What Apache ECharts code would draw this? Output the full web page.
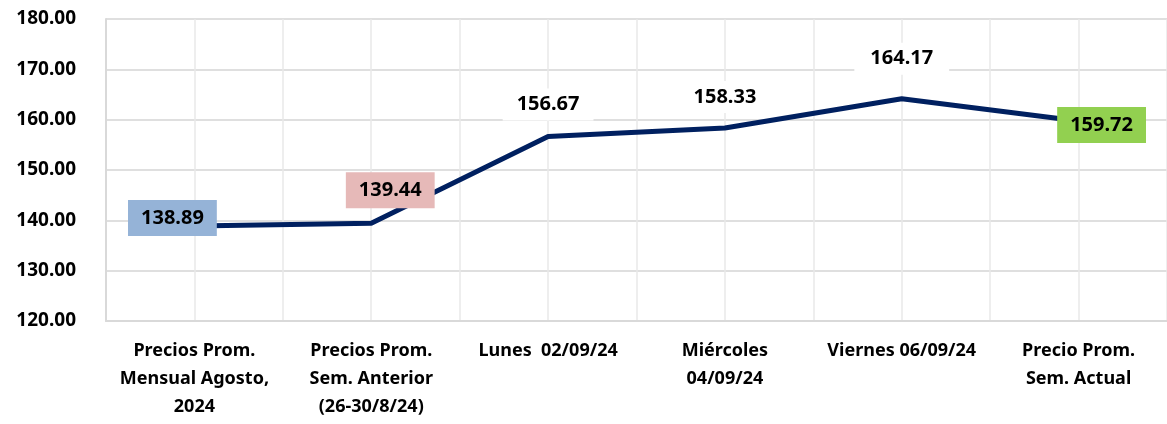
<!DOCTYPE html>
<html>
<head>
<meta charset="utf-8">
<script src="https://cdn.jsdelivr.net/npm/echarts@6/dist/echarts.min.js"></script>
<style>
  html, body { margin: 0; padding: 0; background: #fff; }
  #chart { width: 1167px; height: 424px; }
</style>
</head>
<body>
<div id="chart"></div>
<script>
// datos del gráfico
var categorias = ['Precios Prom.\nMensual Agosto,\n2024', 'Precios Prom.\nSem. Anterior\n(26-30/8/24)', 'Lunes  02/09/24', 'Miércoles\n04/09/24', 'Viernes 06/09/24', 'Precio Prom.\nSem. Actual'];
var precios = [138.89, 139.44, 156.67, 158.33, 164.17, 159.72];
var yMin = 120, yMax = 180, yPaso = 10;
var subdivisiones = ['', '', '', '', '', '', '', '', '', '', '', ''];

// estilo de cada etiqueta (fondo y desplazamiento)
var fondos = ['#95B3D7', '#E6B9B8', '#fff', '#fff', '#fff', '#92D050'];
var desplaz = [[-22, -8], [19, -33], [0, -32], [0, -31], [0, -40], [23, 4]];
var rellenos = [[8, 13], [8, 13], [6, 14], [6, 14], [6, 16], [8, 13]];

var chart = echarts.init(document.getElementById('chart'));

var datos = precios.map(function (v, i) {
    return {
        value: v,
        label: {
            backgroundColor: fondos[i],
            offset: desplaz[i],
            padding: rellenos[i]
        }
    };
});

var option = {
    animation: false,
    title: {
        text: '(US$/qq)',
        left: 607,
        top: -23,
        padding: 0,
        textStyle: { fontFamily: 'Noto Sans', fontWeight: 'bold', fontSize: 22, color: '#000' }
    },
    grid: { left: 106, right: 0, top: 19, bottom: 103 },
    xAxis: [
        {
            type: 'category',
            data: categorias,
            boundaryGap: true,
            axisLine: { show: true, lineStyle: { color: '#D9D9D9', width: 2 } },
            axisTick: { show: false },
            splitLine: { show: false },
            axisLabel: {
                interval: 0,
                margin: 16,
                fontFamily: 'Noto Sans',
                fontWeight: 'bold',
                fontSize: 18,
                lineHeight: 28,
                color: '#000'
            }
        },
        {
            type: 'category',
            data: subdivisiones,
            boundaryGap: true,
            position: 'bottom',
            axisLine: { show: false },
            axisTick: { show: false },
            axisLabel: { show: false },
            splitLine: { show: true, lineStyle: { color: '#E8E8E8', width: 1.5 } }
        }
    ],
    yAxis: {
        type: 'value',
        min: yMin,
        max: yMax,
        interval: yPaso,
        axisLine: { show: true, lineStyle: { color: '#D9D9D9', width: 2 } },
        axisTick: { show: false },
        splitLine: { lineStyle: { color: '#D4D4D4', width: 1.5 } },
        axisLabel: {
            margin: 30,
            fontFamily: 'Noto Sans',
            fontWeight: 'bold',
            fontSize: 19,
            color: '#000',
            formatter: function (v) { return v.toFixed(2); }
        }
    },
    series: [
        {
            type: 'line',
            xAxisIndex: 0,
            data: datos,
            symbol: 'circle',
            symbolSize: 1,
            showSymbol: true,
            itemStyle: { color: '#002060' },
            lineStyle: { color: '#002060', width: 5 },
            label: {
                show: true,
                position: 'inside',
                fontFamily: 'Noto Sans',
                fontWeight: 'bold',
                fontSize: 20,
                color: '#000',
                formatter: function (p) { return p.value.toFixed(2); }
            },
            z: 3
        }
    ]
};

chart.setOption(option);
</script>
</body>
</html>
